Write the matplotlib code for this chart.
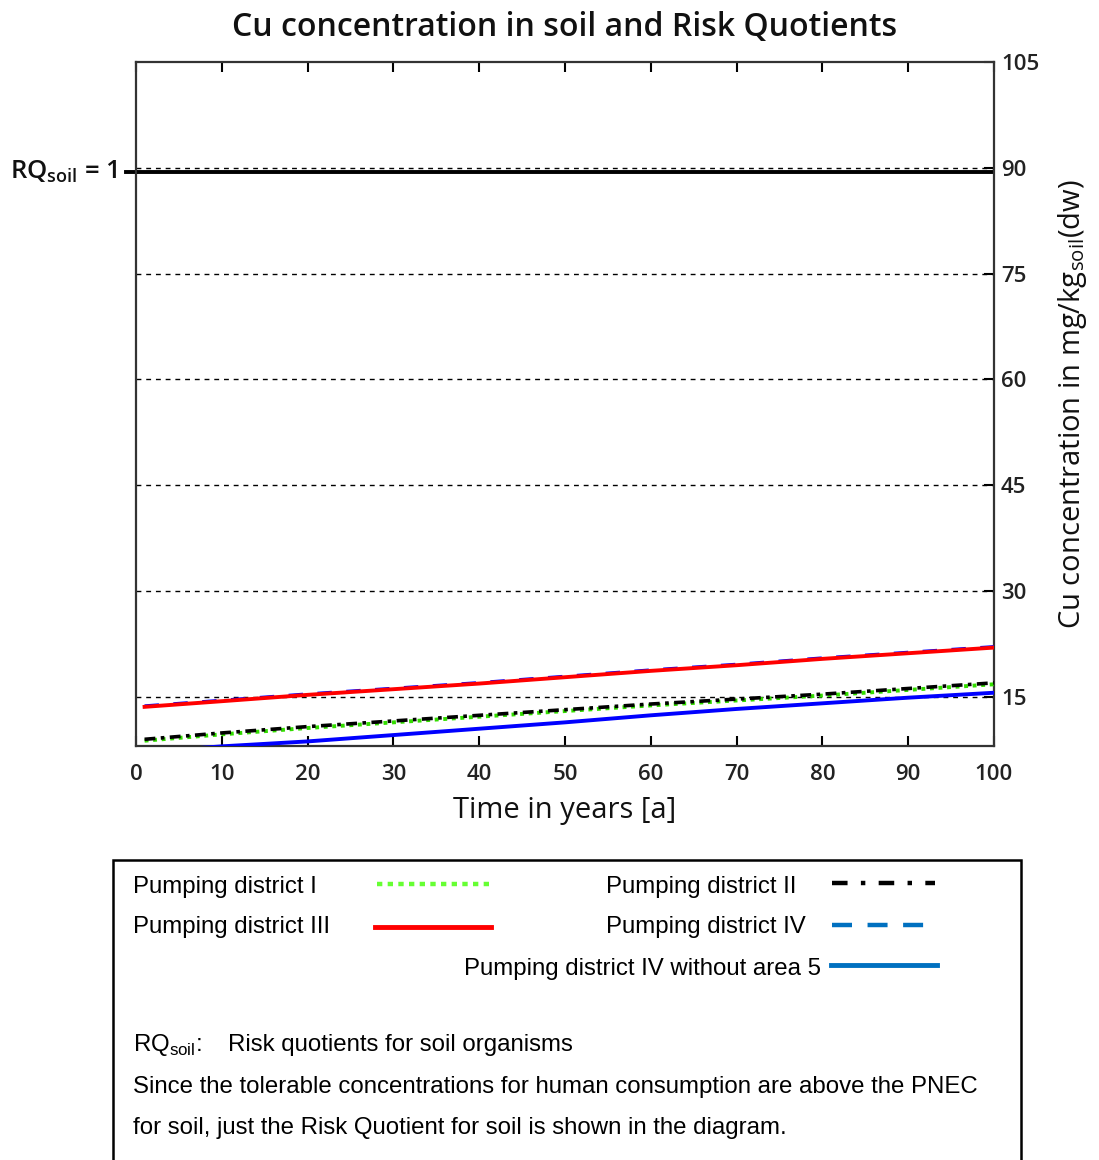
import matplotlib
matplotlib.use("Agg")
import matplotlib.pyplot as plt
from matplotlib.lines import Line2D
from matplotlib.patches import Rectangle

# Simulation years and Cu concentrations (mg/kg soil dw)
years = [1, 10, 20, 30, 40, 50, 60, 70, 80, 90, 100]
district_I = [8.8, 9.7, 10.6, 11.4, 12.2, 13.0, 13.8, 14.5, 15.2, 16.0, 16.8]
district_II = [9.0, 9.9, 10.8, 11.6, 12.4, 13.2, 14.0, 14.7, 15.4, 16.2, 17.0]
district_III = [13.6, 14.4, 15.3, 16.1, 16.9, 17.8, 18.7, 19.5, 20.4, 21.2, 22.0]
district_IV = [13.7, 14.5, 15.4, 16.2, 17.0, 17.9, 18.8, 19.6, 20.5, 21.3, 22.1]
district_IV_wo5 = [7.2, 8.0, 8.7, 9.6, 10.5, 11.4, 12.4, 13.3, 14.1, 14.9, 15.6]

rq_soil_one = 89.4          # concentration corresponding to RQ_soil = 1
y_ticks = [15, 30, 45, 60, 75, 90, 105]
x_ticks = [0, 10, 20, 30, 40, 50, 60, 70, 80, 90, 100]

W, H = 1099, 1160
fig = plt.figure(figsize=(W / 100, H / 100), dpi=100)
fig.patch.set_facecolor("white")

def fx(px):
    return px / W

def fy(py):
    return 1 - py / H

ax = fig.add_axes([fx(136), fy(746), fx(994) - fx(136), fy(62) - fy(746)])

chart_font = "Open Sans"
text_font = "Liberation Sans"

# dashed reference lines
for v in y_ticks[:-1]:
    ax.axhline(v, color="black", lw=1.0, ls=(0, (3.5, 3.5)), zorder=1)

# RQ = 1 line
ax.axhline(rq_soil_one, color="black", lw=2.8, zorder=2)

blue_plot = "#0000FF"
ax.plot(years, district_IV, color=blue_plot, lw=2.6, ls=(0, (4, 4)), zorder=3)
ax.plot(years, district_III, color="#FF0000", lw=2.8, zorder=4)
ax.plot(years, district_IV_wo5, color=blue_plot, lw=2.8, zorder=3)
ax.plot(years, district_I, color="#33DD00", lw=2.8, ls=(0, (1, 1.2)), zorder=3)
ax.plot(years, district_II, color="black", lw=2.6, ls=(0, (3, 1.5, 1, 1.5)), zorder=4)

ax.set_xlim(0, 100)
ax.set_ylim(8.05, 105)
ax.set_xticks(x_ticks)
ax.set_xticklabels([str(t) for t in x_ticks], fontfamily=chart_font, fontsize=16,
                   fontweight="semibold", color="#222222")
ax.yaxis.tick_right()
ax.set_yticks(y_ticks)
ax.set_yticklabels([str(t) for t in y_ticks], fontfamily=chart_font, fontsize=16,
                   fontweight="semibold", color="#222222")
ax.tick_params(axis="x", direction="in", length=7, width=1.5, top=True, bottom=True, pad=13)
ax.tick_params(axis="y", direction="in", length=7, width=1.5, right=True, left=False, pad=5)
for s in ax.spines.values():
    s.set_linewidth(1.6)
    s.set_color("#333333")

ax.set_xlabel("Time in years [a]", fontfamily=chart_font, fontsize=21, labelpad=8,
              color="#111111")
ax.yaxis.set_label_position("right")
ax.set_ylabel(r"Cu concentration in mg/kg$_{\mathregular{soil}}$(dw)", fontfamily=chart_font,
              fontsize=21, labelpad=12, color="#111111")
ax.set_title("Cu concentration in soil and Risk Quotients", fontfamily=chart_font,
             fontsize=23, fontweight="semibold", pad=19, color="#111111")

# left-side RQ marker
ax.text(-0.022, rq_soil_one, r"RQ$_{\mathregular{soil}}$ = 1", transform=ax.get_yaxis_transform(),
        ha="right", va="center", fontfamily=chart_font, fontsize=18.5, fontweight="semibold",
        color="#111111")
ax.plot([-0.012, 0], [rq_soil_one, rq_soil_one], transform=ax.get_yaxis_transform(),
        color="black", lw=2.8, clip_on=False)

# ---- legend / notes box ----
fig.add_artist(Rectangle((fx(113), fy(1170)), fx(1021) - fx(113), fy(860) - fy(1170),
                         transform=fig.transFigure, fill=False, edgecolor="black", lw=1.8))

def ftext(px, py, s, **kw):
    fig.text(fx(px), fy(py), s, fontfamily=text_font, fontsize=17.3, va="center",
             color="black", **kw)

def fline(x0, x1, py, **kw):
    fig.add_artist(Line2D([fx(x0), fx(x1)], [fy(py), fy(py)], transform=fig.transFigure, **kw))

leg_blue = "#0070C0"
ftext(133, 887, "Pumping district I")
fline(377, 490, 884, color="#66FF33", lw=3.2, ls=(0, (1.2, 1.2)))
ftext(606, 887, "Pumping district II")
fline(832, 935, 883, color="black", lw=3.2, ls=(0, (3.5, 3, 1, 3)))
ftext(133, 927, "Pumping district III")
fline(375, 491, 927, color="#FF0000", lw=3.5)
ftext(606, 927, "Pumping district IV")
fline(832, 930, 925, color=leg_blue, lw=3.2, ls=(0, (4.5, 3.5)))
ftext(464, 969, "Pumping district IV without area 5")
fline(831, 937, 965, color=leg_blue, lw=3.5)

ftext(133, 1045, r"RQ$_{\mathregular{soil}}$:")
ftext(228, 1045, "Risk quotients for soil organisms")
ftext(133, 1087, "Since the tolerable concentrations for human consumption are above the PNEC")
ftext(133, 1128, "for soil, just the Risk Quotient for soil is shown in the diagram.")

fig.savefig("out.png", dpi=100, facecolor="white")
